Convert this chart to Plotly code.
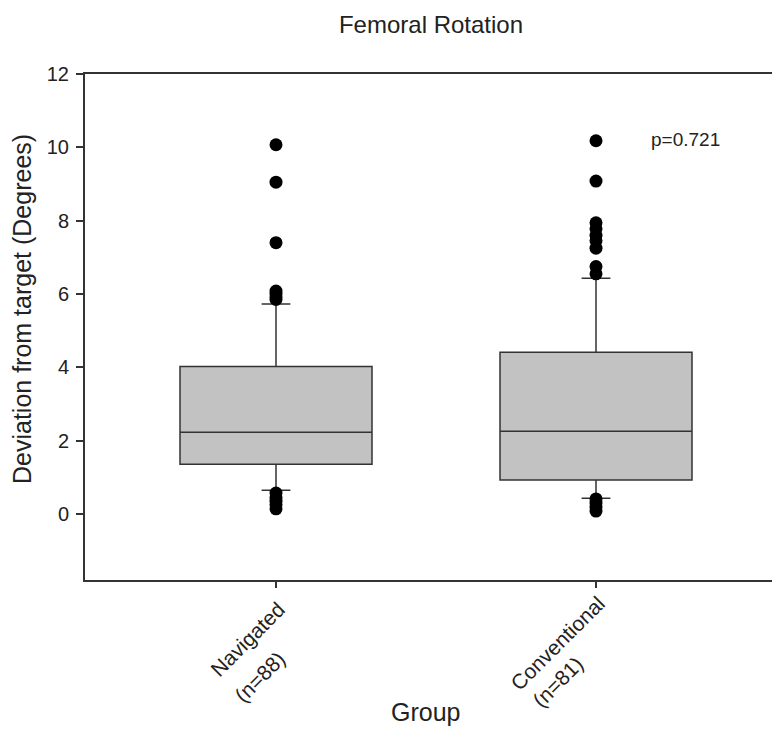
import plotly.graph_objects as go

title_text = "Femoral Rotation"
group_names = ["Navigated", "Conventional"]
group_n = ["(n=88)", "(n=81)"]
q1 = [1.36, 0.93]
median = [2.23, 2.26]
q3 = [4.02, 4.41]
lower_whisker = [0.65, 0.43]
upper_whisker = [5.73, 6.43]

nav_outliers = [10.07, 9.05, 7.40, 6.08, 6.00, 5.92, 5.85, 0.57, 0.45, 0.35, 0.25, 0.14]
conv_outliers = [10.18, 9.08, 7.94, 7.78, 7.60, 7.45, 7.25, 6.75, 6.55, 0.41, 0.30, 0.20, 0.08]

y_ticks = [0, 2, 4, 6, 8, 10, 12]
p_text = "p=0.721"

FONT = "Arial, Liberation Sans, sans-serif"
INK = "#222222"

# page offset (default body margin) and layout geometry
OFF = 8
W, H = 780 - OFF, 747 - 2 * OFF - 12
ML, MT = 77, 66
PW = W - ML
PH = 506
MB = H - MT - PH
UNIT = 320  # pixels between the two groups
X0 = -(276 - OFF - ML) / UNIT
X1 = X0 + PW / UNIT


def px(X):
    return (X - OFF - ML) / PW


def py(Y):
    return 1 - (Y - OFF - MT) / PH


fig = go.Figure()
fig.add_trace(go.Box(
    x=group_names, q1=q1, median=median, q3=q3,
    lowerfence=lower_whisker, upperfence=upper_whisker,
    boxpoints=False, width=0.6, whiskerwidth=0.15,
    fillcolor="#c2c2c2", line=dict(color="#333333", width=1.5),
    showlegend=False, hoverinfo="skip",
))
fig.add_trace(go.Scatter(
    x=[group_names[0]] * len(nav_outliers), y=nav_outliers, mode="markers",
    marker=dict(color="black", size=13), showlegend=False,
))
fig.add_trace(go.Scatter(
    x=[group_names[1]] * len(conv_outliers), y=conv_outliers, mode="markers",
    marker=dict(color="black", size=13), showlegend=False,
))

# rotated two-line category labels
label_font = dict(family=FONT, size=21, color=INK)
line1_shift = [-29, -39]
line2_shift = [-17, -39]
line1_y = [639, 643]
line2_y = [677, 682]
for i in range(len(group_names)):
    fig.add_annotation(x=group_names[i], xref="x", xshift=line1_shift[i],
                       y=py(line1_y[i]), yref="paper", text=group_names[i],
                       textangle=-45, showarrow=False, xanchor="center", yanchor="middle",
                       font=label_font)
    fig.add_annotation(x=group_names[i], xref="x", xshift=line2_shift[i],
                       y=py(line2_y[i]), yref="paper", text=group_n[i],
                       textangle=-45, showarrow=False, xanchor="center", yanchor="middle",
                       font=label_font)

fig.add_annotation(x=1.28, y=10.21, xref="x", yref="y", text=p_text,
                   showarrow=False, font=dict(family=FONT, size=19, color=INK))
fig.add_annotation(x=px(22), y=py(309), xref="paper", yref="paper",
                   text="Deviation from target (Degrees)", textangle=-90,
                   xanchor="center", yanchor="middle",
                   showarrow=False, font=dict(family=FONT, size=25, color=INK))
fig.add_annotation(x=px(425), y=py(712), xref="paper", yref="paper",
                   text="Group", showarrow=False, xanchor="center", yanchor="middle",
                   font=dict(family=FONT, size=25, color=INK))

fig.update_layout(
    width=W, height=H,
    margin=dict(l=ML, r=0, t=MT, b=MB, pad=0),
    paper_bgcolor="white", plot_bgcolor="white",
    title=dict(text=title_text, x=px(431), xref="paper", y=1 - (25 - OFF) / H, yref="container",
               xanchor="center", yanchor="middle",
               font=dict(family=FONT, size=24, color=INK)),
    font=dict(family=FONT, color=INK),
)
fig.update_xaxes(
    type="category", range=[X0, X1],
    showline=True, linecolor="#333333", linewidth=2, mirror=True,
    ticks="outside", ticklen=6, tickcolor="#333333", tickwidth=1.5,
    showticklabels=False,
    showgrid=False, zeroline=False,
)
fig.update_yaxes(
    range=[-1.8, 12], tickvals=y_ticks,
    showline=True, linecolor="#333333", linewidth=2, mirror=False,
    ticks="outside", ticklen=7, tickcolor="#333333", tickwidth=1.5,
    ticklabelstandoff=3,
    tickfont=dict(family=FONT, size=20, color=INK),
    showgrid=False, zeroline=False,
)

fig.write_html("out.html")
